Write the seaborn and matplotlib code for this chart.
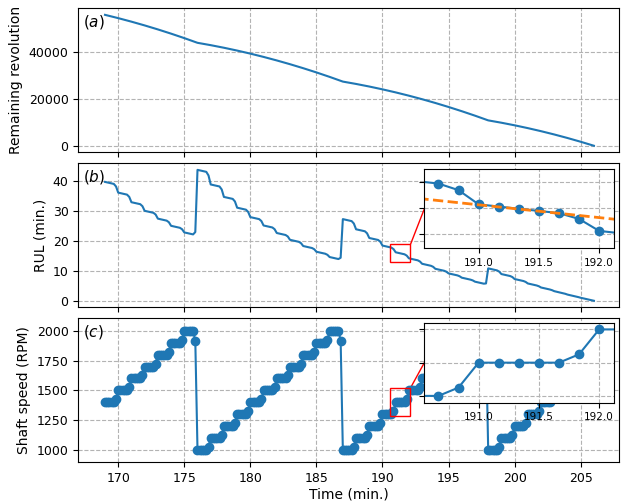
import numpy as np
import matplotlib
matplotlib.use("Agg")
import matplotlib.pyplot as plt
import seaborn as sns
from matplotlib.patches import Rectangle, ConnectionPatch

# ---------------- data ----------------
# samples every 10 s (1/6 min) from 169.0 to 206.0 min
time_min = np.round(np.arange(169 * 6, 206 * 6 + 1) / 6.0, 4)

speed_rpm = [
    1400, 1400, 1400, 1400, 1400, 1425,   # 169
    1500, 1500, 1500, 1500, 1500, 1525,   # 170
    1600, 1600, 1600, 1600, 1600, 1625,   # 171
    1700, 1700, 1700, 1700, 1700, 1725,   # 172
    1800, 1800, 1800, 1800, 1800, 1825,   # 173
    1900, 1900, 1900, 1900, 1900, 1925,   # 174
    2000, 2000, 2000, 2000, 2000, 1917,   # 175
    1000, 1000, 1000, 1000, 1000, 1025,   # 176
    1100, 1100, 1100, 1100, 1100, 1125,   # 177
    1200, 1200, 1200, 1200, 1200, 1225,   # 178
    1300, 1300, 1300, 1300, 1300, 1325,   # 179
    1400, 1400, 1400, 1400, 1400, 1425,   # 180
    1500, 1500, 1500, 1500, 1500, 1525,   # 181
    1600, 1600, 1600, 1600, 1600, 1625,   # 182
    1700, 1700, 1700, 1700, 1700, 1725,   # 183
    1800, 1800, 1800, 1800, 1800, 1825,   # 184
    1900, 1900, 1900, 1900, 1900, 1925,   # 185
    2000, 2000, 2000, 2000, 2000, 1917,   # 186
    1000, 1000, 1000, 1000, 1000, 1025,   # 187
    1100, 1100, 1100, 1100, 1100, 1125,   # 188
    1200, 1200, 1200, 1200, 1200, 1225,   # 189
    1300, 1300, 1300, 1300, 1300, 1325,   # 190
    1400, 1400, 1400, 1400, 1400, 1425,   # 191
    1500, 1500, 1500, 1500, 1500, 1525,   # 192
    1600, 1600, 1600, 1600, 1600, 1625,   # 193
    1700, 1700, 1700, 1700, 1700, 1725,   # 194
    1800, 1800, 1800, 1800, 1800, 1825,   # 195
    1900, 1900, 1900, 1900, 1900, 1925,   # 196
    2000, 2000, 2000, 2000, 2000, 1917,   # 197
    1000, 1000, 1000, 1000, 1000, 1025,   # 198
    1100, 1100, 1100, 1100, 1100, 1125,   # 199
    1200, 1200, 1200, 1200, 1200, 1225,   # 200
    1300, 1300, 1300, 1300, 1300, 1325,   # 201
    1400, 1400, 1400, 1400, 1400, 1425,   # 202
    1500, 1500, 1500, 1500, 1500, 1525,   # 203
    1600, 1600, 1600, 1600, 1600, 1625,   # 204
    1700, 1700, 1700, 1700, 1700, 1725,   # 205
    1800,                                 # 206
]

rul_min = [
    39.86, 39.69, 39.52, 39.36, 39.19, 38.34,   # 169
    36.27, 36.10, 35.93, 35.77, 35.60, 34.85,   # 170
    33.06, 32.90, 32.73, 32.56, 32.40, 31.73,   # 171
    30.18, 30.01, 29.84, 29.68, 29.51, 28.92,   # 172
    27.56, 27.39, 27.22, 27.06, 26.89, 26.36,   # 173
    25.16, 24.99, 24.82, 24.66, 24.49, 24.01,   # 174
    22.95, 22.78, 22.62, 22.45, 22.28, 23.07,   # 175
    43.90, 43.73, 43.57, 43.40, 43.23, 42.02,   # 176
    39.00, 38.83, 38.67, 38.50, 38.33, 37.32,   # 177
    34.83, 34.67, 34.50, 34.33, 34.17, 33.31,   # 178
    31.23, 31.06, 30.90, 30.73, 30.56, 29.82,   # 179
    28.07, 27.90, 27.74, 27.57, 27.40, 26.76,   # 180
    25.27, 25.10, 24.93, 24.77, 24.60, 24.03,   # 181
    22.75, 22.58, 22.42, 22.25, 22.08, 21.58,   # 182
    20.47, 20.30, 20.14, 19.97, 19.80, 19.35,   # 183
    18.39, 18.22, 18.06, 17.89, 17.72, 17.32,   # 184
    16.47, 16.31, 16.14, 15.97, 15.81, 15.44,   # 185
    14.70, 14.53, 14.37, 14.20, 14.03, 14.47,   # 186
    27.40, 27.23, 27.07, 26.90, 26.73, 25.92,   # 187
    24.00, 23.83, 23.67, 23.50, 23.33, 22.65,   # 188
    21.08, 20.92, 20.75, 20.58, 20.42, 19.84,   # 189
    18.54, 18.37, 18.21, 18.04, 17.87, 17.37,   # 190
    16.29, 16.12, 15.95, 15.79, 15.62, 15.18,   # 191
    14.27, 14.10, 13.93, 13.77, 13.60, 13.21,   # 192
    12.44, 12.27, 12.10, 11.94, 11.77, 11.43,   # 193
    10.76, 10.60, 10.43, 10.26, 10.10, 9.79,    # 194
    9.22, 9.06, 8.89, 8.72, 8.56, 8.27,         # 195
    7.79, 7.62, 7.46, 7.29, 7.12, 6.87,         # 196
    6.45, 6.28, 6.12, 5.95, 5.78, 5.86,         # 197
    10.90, 10.73, 10.57, 10.40, 10.23, 9.82,    # 198
    9.00, 8.83, 8.67, 8.50, 8.33, 7.99,         # 199
    7.33, 7.17, 7.00, 6.83, 6.67, 6.37,         # 200
    5.85, 5.68, 5.51, 5.35, 5.18, 4.92,         # 201
    4.50, 4.33, 4.17, 4.00, 3.83, 3.60,         # 202
    3.27, 3.10, 2.93, 2.77, 2.60, 2.39,         # 203
    2.13, 1.96, 1.79, 1.63, 1.46, 1.27,         # 204
    1.06, 0.89, 0.73, 0.56, 0.39, 0.22,         # 205
    0.06,                                       # 206
]

rev_minutes = list(range(169, 207))
remaining_rev = [
    55800, 54400, 52900, 51300, 49600, 47800, 45900, 43900, 42900, 41800,
    40600, 39300, 37900, 36400, 34800, 33100, 31300, 29400, 27400, 26400,
    25300, 24100, 22800, 21400, 19900, 18300, 16600, 14800, 12900, 10900,
    9900, 8800, 7600, 6300, 4900, 3400, 1800, 100,
]

trend_t = [190.5, 192.3]
trend_rul = [16.74, 14.99]

zoom_xlim = (190.55, 192.12)
zoom_rul_ylim = (12.95, 18.95)
zoom_speed_ylim = (1280, 1520)

# ---------------- figure ----------------
C0 = "#1f77b4"
C1 = "#ff7f0e"
plt.rcParams["font.family"] = ["DejaVu Sans"]

fig = plt.figure(figsize=(6.24, 5.03), dpi=100)
ax_a, ax_b, ax_c = fig.subplots(3, 1, sharex=True)
fig.subplots_adjust(left=0.1255, right=0.992, top=0.9835, bottom=0.0809, hspace=0.0764)

grid_kw = dict(ls="--", color="0.7", lw=0.8)

# (a) remaining revolution
sns.lineplot(x=rev_minutes, y=remaining_rev, ax=ax_a, color=C0, lw=1.5,
             estimator=None, sort=False)
ax_a.set_yticks([0, 20000, 40000])
ax_a.set_ylabel("Remaining revolution", fontsize=10)

# (b) RUL
sns.lineplot(x=time_min, y=rul_min, ax=ax_b, color=C0, lw=1.5,
             estimator=None, sort=False)
ax_b.set_yticks([0, 10, 20, 30, 40])
ax_b.set_ylabel("RUL (min.)", fontsize=10)

# (c) shaft speed
line_kw = dict(color=C0, lw=1.5, marker="o", markersize=6,
               markeredgecolor=C0, markerfacecolor=C0, markeredgewidth=1,
               estimator=None, sort=False)
sns.lineplot(x=time_min, y=speed_rpm, ax=ax_c, **line_kw)
ax_c.set_yticks([1000, 1250, 1500, 1750, 2000])
ax_c.set_ylim(895, 2105)
ax_c.set_ylabel("Shaft speed (RPM)", fontsize=10)
ax_c.set_xlabel("Time (min.)", fontsize=10, labelpad=1.5)

ax_c.set_xticks([170, 175, 180, 185, 190, 195, 200, 205])
ax_c.set_xlim(166.98, 207.9)

for ax, lab in zip([ax_a, ax_b, ax_c], ["(a)", "(b)", "(c)"]):
    ax.grid(True, **grid_kw)
    ax.tick_params(labelsize=9)
    ax.text(0.008, 0.968, "$" + lab + "$", transform=ax.transAxes,
            ha="left", va="top", fontsize=11)
    ax.set_axisbelow(True)

# insets
def add_inset(ax, ylim, yticks, bounds):
    ins = ax.inset_axes(bounds)
    ins.set_xlim(*zoom_xlim)
    ins.set_ylim(*ylim)
    ins.set_xticks([191.0, 191.5, 192.0])
    ins.set_xticklabels(["191.0", "191.5", "192.0"])
    ins.set_yticks(yticks)
    ins.set_yticklabels([])
    ins.tick_params(labelsize=7.5)
    ins.grid(True, **grid_kw)
    ins.set_axisbelow(True)
    rect = Rectangle((zoom_xlim[0], ylim[0]), zoom_xlim[1] - zoom_xlim[0],
                     ylim[1] - ylim[0], fill=False, edgecolor="red", lw=1.0,
                     zorder=3)
    ax.add_patch(rect)
    con = ConnectionPatch(xyA=(zoom_xlim[1], ylim[1]), coordsA=ax.transData,
                          xyB=(0.0, 0.5), coordsB=ins.transAxes,
                          color="red", lw=1.0)
    ax.add_artist(con)
    return ins

ins_b = add_inset(ax_b, zoom_rul_ylim, [14, 16, 18], [0.64, 0.41, 0.35, 0.548])
sns.lineplot(x=time_min, y=rul_min, ax=ins_b, **line_kw)
ins_b.plot(trend_t, trend_rul, ls="--", color=C1, lw=2)
ins_b.set_xlim(*zoom_xlim)
ins_b.set_ylim(*zoom_rul_ylim)

ins_c = add_inset(ax_c, zoom_speed_ylim, [1300, 1400, 1500], [0.64, 0.415, 0.35, 0.554])
sns.lineplot(x=time_min, y=speed_rpm, ax=ins_c, **line_kw)
ins_c.set_xlim(*zoom_xlim)
ins_c.set_ylim(*zoom_speed_ylim)

for ins in (ins_b, ins_c):
    ins.set_xlabel("")
    ins.set_ylabel("")

fig.savefig("out.png", dpi=100)
